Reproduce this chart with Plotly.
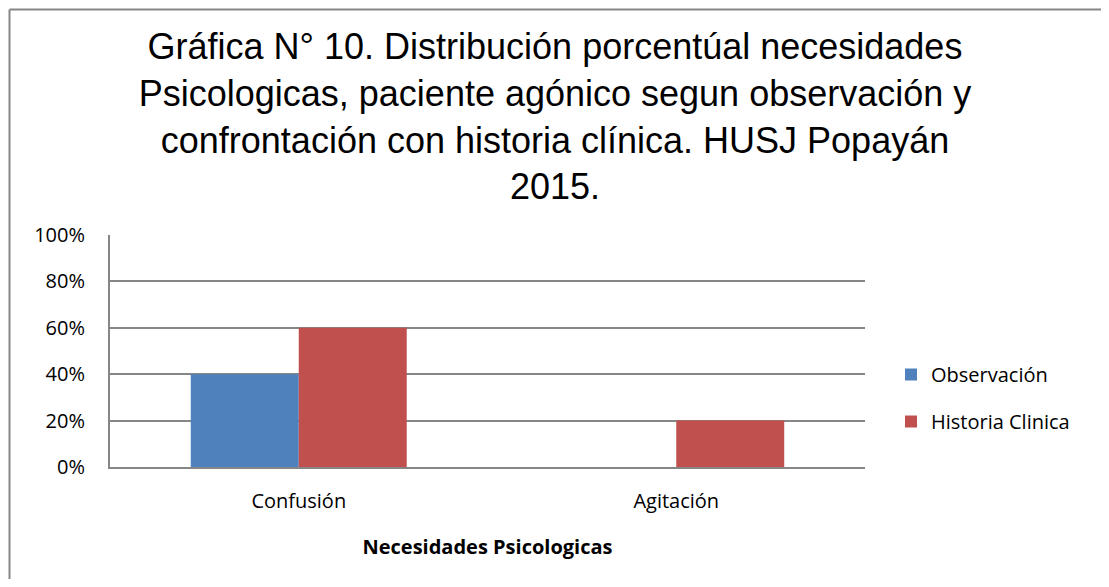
import plotly.graph_objects as go

categories = ["Confusión", "Agitación"]
observacion = [0.40, 0.0]
historia_clinica = [0.60, 0.20]
series_names = ["Observación", "Historia Clinica"]
y_ticks = [0, 0.2, 0.4, 0.6, 0.8, 1.0]
y_tick_labels = ["0%", "20%", "40%", "60%", "80%", "100%"]

title_text = ("Gráfica N° 10. Distribución porcentúal necesidades<br>"
              "Psicologicas, paciente agónico segun observación y<br>"
              "confrontación con historia clínica. HUSJ Popayán<br>2015.")

body_font = "Open Sans, Lato, sans-serif"

fig = go.Figure()
fig.add_trace(go.Bar(x=categories, y=observacion, name=series_names[0],
                     marker=dict(color="#4F81BD", line=dict(width=0)),
                     legendgroup="a"))
fig.add_trace(go.Bar(x=categories, y=historia_clinica, name=series_names[1],
                     marker=dict(color="#C0504D", line=dict(width=0)),
                     legendgroup="b"))

OFF = 8  # page body margin
W, H = 1109 - 2 * OFF, 587 - 2 * OFF
L, T = 110 - OFF, 235 - OFF
R = W - (865 - OFF)
y_bottom = 467 - OFF
B = H - y_bottom
pw, ph = W - L - R, H - T - B

fig.update_layout(
    width=W, height=H,
    margin=dict(l=L, r=R, t=T, b=B),
    paper_bgcolor="white", plot_bgcolor="white",
    barmode="group", bargap=0.428, bargroupgap=0,
    title=dict(text=title_text, x=(555 - OFF) / W, xref="container", xanchor="center",
               y=1 - 51 / H, yref="container", yanchor="top",
               font=dict(family="Liberation Sans Narrow, Arial Narrow, Liberation Sans, Arial",
                         size=36, color="#000000")),
    legend=dict(x=(891 - OFF - L) / pw, y=(y_bottom - (355 - OFF)) / ph,
                xanchor="left", yanchor="top",
                font=dict(family=body_font, size=20, color="#000000"),
                traceorder="grouped", tracegroupgap=18, itemwidth=30,
                bgcolor="rgba(0,0,0,0)"),
    xaxis=dict(showline=True, linecolor="#868686", linewidth=2,
               showgrid=False, ticks="", ticklabelstandoff=15,
               tickfont=dict(family=body_font, size=20, color="#000000"),
               title=dict(text="<b>Necesidades Psicologicas</b>", standoff=27,
                          font=dict(family=body_font, size=20, color="#000000"))),
    yaxis=dict(range=[0, 1], tickvals=y_ticks, ticktext=y_tick_labels,
               showline=True, linecolor="#868686", linewidth=2,
               showgrid=True, gridcolor="#868686", gridwidth=2,
               zeroline=False, ticks="", ticklabelstandoff=19,
               tickfont=dict(family=body_font, size=20, color="#000000")),
    showlegend=True,
)

# outer chart border (only top and left edges are visible in the reference)
bx0 = (9.5 - OFF - L) / pw
by1 = (y_bottom - (9.5 - OFF)) / ph
fig.add_shape(type="line", xref="paper", yref="paper", layer="above",
              x0=bx0, x1=(W + 40 - L) / pw, y0=by1, y1=by1,
              line=dict(color="#868686", width=2))
fig.add_shape(type="line", xref="paper", yref="paper", layer="above",
              x0=bx0, x1=bx0, y0=by1, y1=(y_bottom - (H + 40)) / ph,
              line=dict(color="#868686", width=2))

fig.write_html("out.html")
